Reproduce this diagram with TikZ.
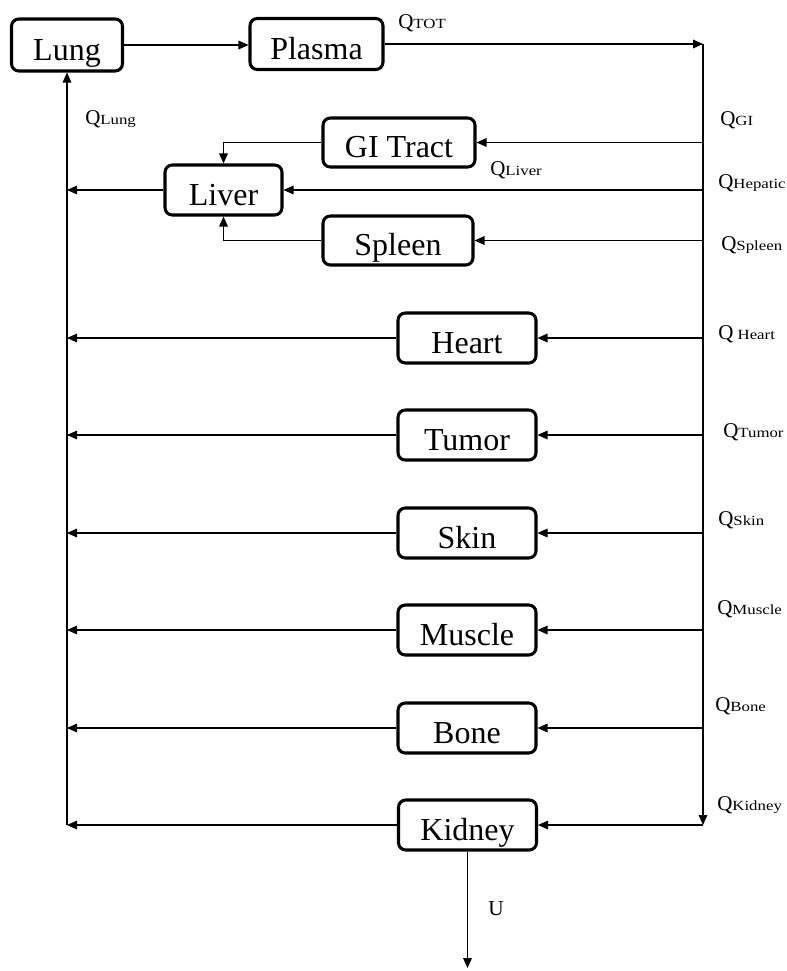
\documentclass[tikz,border=0pt]{standalone}
\usepackage{fontspec}
\setmainfont{Liberation Serif}
\newfontfamily\subfont[FakeStretch=1.2]{Liberation Serif}
\usetikzlibrary{arrows.meta}

% flow-rate label: a large Q followed by a smaller, wide subscript on the baseline
\newcommand{\flowQ}[1]{{\fontsize{15.75}{18}\selectfont Q}{\subfont\fontsize{10.5}{12}\selectfont #1}}

\begin{document}
\begin{tikzpicture}[x=0.75pt, y=-0.75pt,
  organ/.style={draw, line width=2.3pt, rounded corners=5.5pt, inner sep=0pt,
    text height=23pt, text depth=0pt, font=\fontsize{24}{28}\selectfont,
    minimum width=103.5pt, minimum height=37.5pt},
  flow/.style={line width=0.85pt, -{Triangle[length=7.5pt,width=6.5pt]}},
  qlabel/.style={anchor=base west, inner sep=0pt}]

\useasboundingbox (0,0) rectangle (787,971);

% compartments
\node[organ, minimum width=83.25pt, minimum height=39pt] (lung) at (67,45) {Lung};
\node[organ, minimum width=99.75pt, minimum height=38.25pt] (plasma) at (316.5,44) {Plasma};
\node[organ, minimum width=114pt, minimum height=36.75pt] (gi) at (399,142.5) {GI Tract};
\node[organ, minimum width=87.75pt] (liver) at (223.5,190) {Liver};
\node[organ, minimum width=112.5pt, minimum height=36.75pt] (spleen) at (398,240.5) {Spleen};
\node[organ] (heart) at (467,338) {Heart};
\node[organ] (tumor) at (467,435) {Tumor};
\node[organ] (skin) at (467,533) {Skin};
\node[organ] (muscle) at (467,630) {Muscle};
\node[organ] (bone) at (467,728) {Bone};
\node[organ] (kidney) at (467.5,825) {Kidney};

% arterial bus on the right, venous return on the left
\coordinate (top) at (703,44);
\coordinate (bot) at (703,825);
\coordinate (ret) at (67,825);
\coordinate (urine) at (467.5,968);

\draw[flow] (lung.east) -- (lung.east -| plasma.west);
\draw[flow] (plasma.east) -- (top);
\draw[flow] (top) -- (bot);
\draw[flow] (bot) -- (kidney.east);
\draw[flow] (kidney.west) -- (ret);
\draw[flow] (ret) -- (lung.south);
\draw[flow] (kidney.south) -- (urine);

% splanchnic organs draining into the liver
\draw[flow] (gi.east -| top) -- (gi.east);
\draw[flow] (gi.west) -| (liver.north);
\draw[flow] (spleen.east -| top) -- (spleen.east);
\draw[flow] (spleen.west) -| (liver.south);
\draw[flow] (liver.east -| top) -- (liver.east);
\draw[flow] (liver.west) -- (liver.west -| ret);

% remaining tissues in parallel
\foreach \o in {heart,tumor,skin,muscle,bone}{
  \draw[flow] (\o.east -| top) -- (\o.east);
  \draw[flow] (\o.west) -- (\o.west -| ret);
}

% flow labels
\node[qlabel] (qtot) at (398,28) {\flowQ{TOT}};
\node[qlabel] (qlung) at (85,124) {\flowQ{Lung}};
\node[qlabel] (qgi) at (720,125) {\flowQ{GI}};
\node[qlabel] (qliver) at (490,175) {\flowQ{Liver}};
\node[qlabel] (qhep) at (718,188) {\flowQ{Hepatic}};
\node[qlabel] (qspl) at (721,250) {\flowQ{Spleen}};
\node[qlabel] (qheart) at (718,339) {\flowQ{\ Heart}};
\node[qlabel] (qtumor) at (723,437) {\flowQ{Tumor}};
\node[qlabel] (qskin) at (718,525) {\flowQ{Skin}};
\node[qlabel] (qmus) at (717,614) {\flowQ{Muscle}};
\node[qlabel] (qbone) at (715,711) {\flowQ{Bone}};
\node[qlabel] (qkid) at (717,810) {\flowQ{Kidney}};
\node[qlabel] (ulabel) at (488,915) {\fontsize{16}{18}\selectfont U};
\end{tikzpicture}
\end{document}
